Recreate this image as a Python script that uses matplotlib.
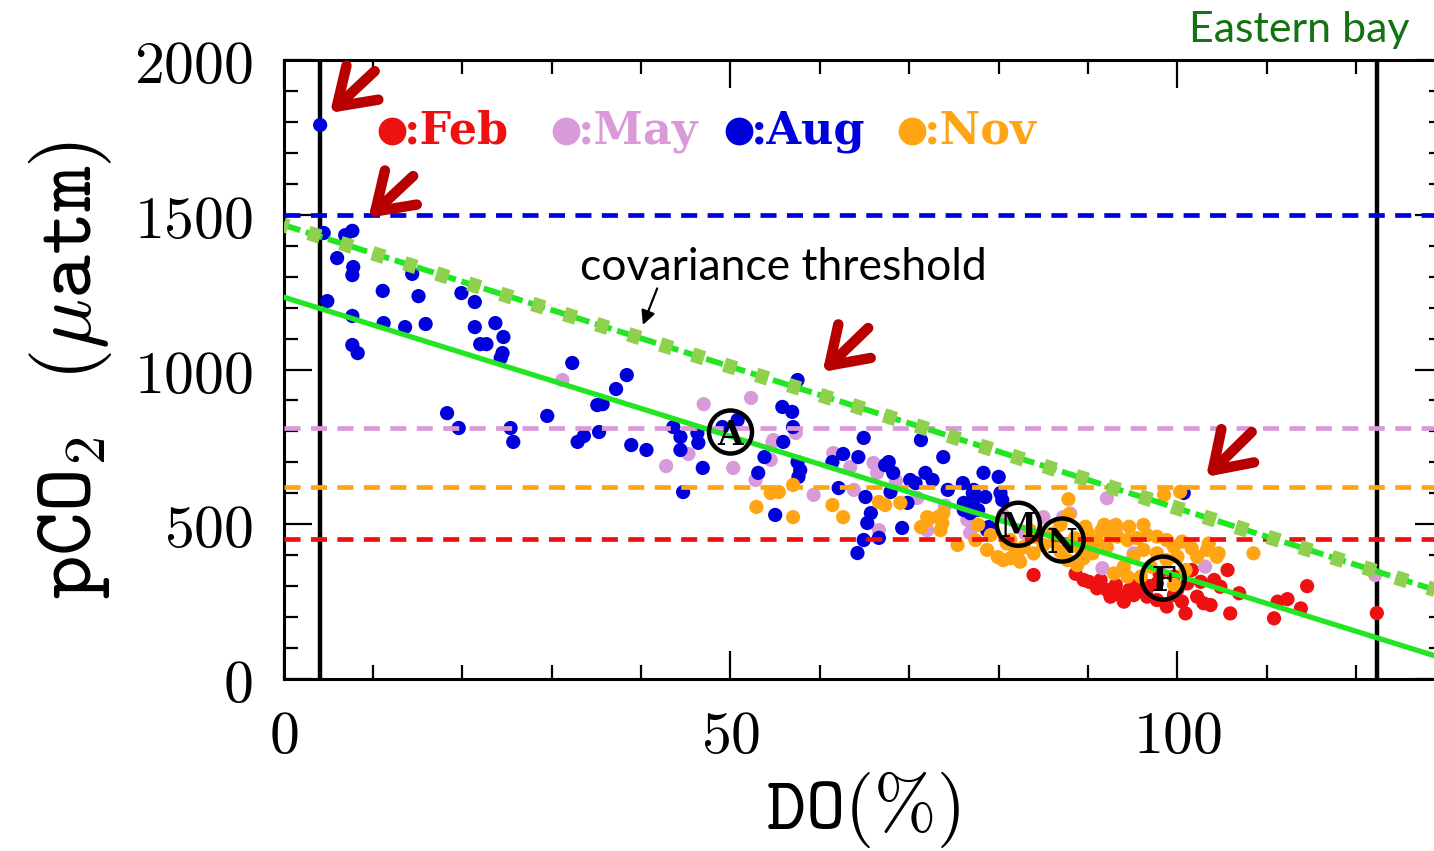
import matplotlib
matplotlib.use("Agg")
import matplotlib.pyplot as plt
from matplotlib.ticker import MultipleLocator, FuncFormatter

plt.rcParams['font.family'] = ['DejaVu Serif', 'DejaVu Sans']
plt.rcParams['mathtext.fontset'] = 'cm'

# ---------------- data ----------------
months = ['Feb', 'May', 'Aug', 'Nov']
month_colors = ['#ee1111', '#d99ad9', '#0000dd', '#ffa514']

feb_do = [90.1, 91.4, 91.0, 92.1, 93.1, 92.5, 93.6, 94.6, 95.1, 95.9, 96.6, 97.7, 98.8,
          97.7, 99.6, 100.5, 101.1, 101.6, 102.6, 102.2, 102.9, 103.7, 104.1, 104.8,
          105.6, 105.9, 106.9, 83.9, 111.2, 112.3, 110.8, 113.8, 114.5, 100.9, 89.5,
          95.5, 98.0, 100.0, 99.6, 122.3, 94.0, 96.8, 88.6]
feb_pco2 = [314, 320, 293, 288, 304, 266, 271, 288, 271, 293, 266, 255, 234,
            309, 271, 250, 309, 352, 314, 266, 245, 239, 320, 298,
            352, 212, 277, 336, 250, 258, 196, 228, 300, 212, 320,
            320, 340, 290, 331, 213, 250, 300, 340]

may_do = [31.2, 47.0, 52.3, 42.8, 45.3, 50.3, 54.7, 54.5, 52.8, 61.5, 63.4, 66.0, 66.4,
          59.3, 63.8, 70.9, 66.6, 72.0, 76.5, 76.8, 85.0, 88.0, 92.1, 93.1, 90.1, 95.1,
          91.6, 103.1, 89.0, 122.1, 54.8, 57.3, 87.2, 68.5, 74.0, 80.5, 83.0]
may_pco2 = [966, 888, 908, 688, 727, 682, 766, 708, 643, 730, 685, 698, 666,
            595, 611, 585, 481, 481, 514, 472, 523, 535, 584, 487, 417, 406,
            358, 363, 384, 336, 772, 795, 523, 640, 560, 530, 470]

aug_do = [4.1, 4.5, 6.9, 7.7, 6.0, 7.8, 7.7, 14.4, 11.1, 15.1, 19.9, 21.4, 4.9, 7.7,
          11.2, 13.6, 15.9, 21.4, 23.7, 24.6, 22.0, 22.7, 24.5, 24.3, 7.7, 8.3, 18.3,
          19.6, 25.4, 25.7, 29.5, 32.3, 38.4, 37.2, 35.1, 35.7, 33.6, 32.9, 35.3, 38.9,
          40.6, 43.6, 44.4, 44.4, 46.3, 46.4, 46.9, 44.7, 50.8, 49.1, 55.8, 56.9, 57.0,
          55.9, 53.8, 53.1, 55.0, 57.5, 57.5, 57.8, 57.6, 64.9, 62.6, 64.3, 61.4, 62.1,
          65.1, 65.7, 65.3, 64.9, 64.2, 69.2, 67.7, 67.3, 68.2, 70.1, 71.3, 73.8, 71.8,
          72.6, 74.3, 76.0, 77.2, 78.3, 80.0, 80.4, 76.1, 77.2, 76.8, 78.9, 80.2, 70.7,
          77.1, 78.5, 76.1, 77.7, 67.9, 69.8, 66.6, 78.7, 100.7]
aug_pco2 = [1790, 1441, 1434, 1448, 1360, 1331, 1305, 1309, 1254, 1237, 1247, 1218, 1221, 1173,
            1150, 1137, 1147, 1137, 1150, 1105, 1082, 1082, 1053, 1037, 1079, 1053, 859,
            811, 811, 766, 850, 1021, 982, 937, 885, 888, 785, 766, 798, 756,
            740, 814, 782, 740, 795, 763, 682, 604, 837, 814, 879, 863, 814,
            766, 717, 666, 530, 966, 701, 675, 653, 779, 727, 717, 701, 617,
            588, 536, 504, 449, 407, 488, 701, 691, 666, 643, 772, 717, 666,
            643, 611, 633, 611, 666, 653, 578, 569, 578, 536, 491, 601, 633,
            601, 588, 546, 546, 604, 569, 456, 481, 601]

nov_do = [80.9, 81.9, 81.3, 82.4, 83.9, 85.0, 86.2, 86.9, 87.7, 88.8, 89.5, 90.5, 91.0,
          92.1, 93.3, 94.4, 95.5, 96.6, 97.7, 98.8, 99.6, 100.5, 97.7, 96.2, 95.1, 94.0,
          92.9, 95.9, 94.4, 97.0, 98.8, 100.0, 101.6, 102.2, 103.3, 104.4, 103.5, 104.6,
          108.5, 99.6, 100.9, 87.8, 98.5, 100.3, 96.2, 91.8, 94.6, 93.1, 87.8, 86.9, 89.7,
          78.7, 79.9, 80.5, 82.1, 82.8, 77.4, 79.1, 81.3, 61.4, 62.6, 66.6, 67.3, 69.0,
          71.3, 72.0, 73.2, 73.8, 72.1, 73.7, 73.5, 77.7, 75.4, 52.9, 54.5, 55.4, 57.0,
          57.0, 84.0, 88.5, 90.0, 91.5, 89.0, 86.0, 83.5, 92.5, 90.0, 88.0]
nov_pco2 = [438, 417, 390, 379, 406, 433, 444, 411, 384, 368, 390, 406, 444,
            427, 460, 449, 455, 465, 460, 449, 427, 444, 406, 417, 395, 363,
            341, 331, 331, 363, 384, 395, 422, 395, 417, 395, 438, 406,
            406, 304, 352, 581, 595, 605, 498, 498, 492, 498, 530, 498, 492,
            417, 394, 384, 394, 426, 449, 465, 449, 562, 523, 572, 562, 569,
            491, 523, 523, 536, 514, 504, 481, 498, 433, 556, 601, 604, 627,
            523, 460, 455, 470, 480, 425, 470, 480, 470, 440, 430]

month_do = [feb_do, may_do, aug_do, nov_do]
month_pco2 = [feb_pco2, may_pco2, aug_pco2, nov_pco2]

# monthly reference (dashed) levels
month_levels = [452, 811, 1500, 620]

# centroid labels
centroid_labels = ['F', 'M', 'A', 'N']
centroid_do = [98.4, 82.2, 50.0, 87.1]
centroid_pco2 = [326, 500, 798, 449]

# regression line and covariance threshold
reg_do = [0, 130]
reg_pco2 = [1234, 64]
thr_do = [0, 130]
thr_pco2 = [1467, 277]

# vertical limits
vline_do = [4.1, 122.3]

# red highlight arrows (tip, tail)
arrow_tip_do = [5.2, 9.5, 60.3, 103.2]
arrow_tip_pco2 = [1829, 1490, 992, 653]
arrow_tail_do = [10.2, 14.5, 65.4, 108.3]
arrow_tail_pco2 = [1964, 1625, 1134, 798]

x_ticks = [0, 50, 100]
y_ticks = [0, 500, 1000, 1500, 2000]

# ---------------- figure ----------------
W, H = 1434, 851
fig = plt.figure(figsize=(W / 100, H / 100), dpi=100)
x0, x1, y0, y1 = 283.5, 1443, 679, 60
ax = fig.add_axes([x0 / W, 1 - y0 / H, (x1 - x0) / W, (y0 - y1) / H])
ax.set_xlim(0, 129.7)
ax.set_ylim(0, 2000)

# scatter points
for do, pc, col in zip(month_do, month_pco2, month_colors):
    ax.scatter(do, pc, s=105, color=col, edgecolors='none', zorder=3)

# vertical lines
for v in vline_do:
    ax.axvline(v, color='black', lw=3.2, zorder=2)

# dashed monthly levels
for lvl, col in zip(month_levels, month_colors):
    ax.axhline(lvl, color=col, lw=3.4, linestyle=(0, (3.4, 2.2)), zorder=4)

# regression
ax.plot(reg_do, reg_pco2, color='#22e622', lw=3.8, zorder=5)

# covariance threshold
ax.plot(thr_do, thr_pco2, color='#22e622', lw=4.2, linestyle=(0, (3.0, 1.0)), zorder=5)
ax.plot(thr_do, thr_pco2, color='#8fd14f', lw=10.5, linestyle=(0.5, (0.85, 1.45)),
        solid_capstyle='butt', dash_capstyle='butt', zorder=6)

# centroids
ax.scatter(centroid_do, centroid_pco2, s=31 ** 2, facecolors='none', edgecolors='black',
           linewidths=3.2, zorder=7)
for lab, dx, py in zip(centroid_labels, centroid_do, centroid_pco2):
    ax.text(dx, py, lab, ha='center', va='center_baseline', fontsize=24, fontweight='bold',
            family='DejaVu Serif', color='black', zorder=8)

# legend-like labels
leg_x_dot = [0.0936, 0.2436, 0.3929, 0.5421]
for xd, m, col in zip(leg_x_dot, months, month_colors):
    ax.plot([xd], [0.885], 'o', ms=20, color=col, mec='none', transform=ax.transAxes,
            clip_on=False, zorder=8)
    ax.text(xd + 0.0105, 0.885, ':' + m, transform=ax.transAxes, ha='left', va='center',
            fontsize=32, fontweight='bold', family='DejaVu Serif', color=col, zorder=8)

# red arrows
for tx, ty, sx, sy in zip(arrow_tip_do, arrow_tip_pco2, arrow_tail_do, arrow_tail_pco2):
    ax.annotate('', xy=(tx, ty), xytext=(sx, sy),
                arrowprops=dict(arrowstyle='->,head_length=0.9,head_width=0.6',
                                color='#b80000', lw=7.5, mutation_scale=28,
                                shrinkA=0, shrinkB=0, capstyle='round'),
                zorder=9, annotation_clip=False)

# covariance threshold label + arrow
ax.text(33.2, 1330, 'covariance threshold', family='Lato', fontsize=32, color='black',
        ha='left', va='center', zorder=9)
ax.annotate('', xy=(40.2, 1144), xytext=(41.8, 1262),
            arrowprops=dict(arrowstyle='-|>,head_length=0.6,head_width=0.3',
                            color='black', lw=1.6, mutation_scale=14, shrinkA=0, shrinkB=0),
            zorder=9)

fig.text(0.983, 0.965, 'Eastern bay', family='Lato', fontsize=31, color='#137313',
         ha='right', va='center')

# axes styling
tt_fmt = FuncFormatter(lambda v, p: r'$\mathtt{%d}$' % v)
ax.set_xticks(x_ticks)
ax.set_yticks(y_ticks)
ax.xaxis.set_major_formatter(tt_fmt)
ax.yaxis.set_major_formatter(tt_fmt)
ax.xaxis.set_minor_locator(MultipleLocator(10))
ax.yaxis.set_minor_locator(MultipleLocator(100))
ax.tick_params(which='both', direction='in', top=True, right=True, width=1.6, color='black')
ax.tick_params(which='major', length=20)
ax.tick_params(which='minor', length=10)
ax.tick_params(axis='y', which='major', pad=22, labelsize=43)
ax.tick_params(axis='x', which='major', pad=20, labelsize=43)
for sp in ax.spines.values():
    sp.set_linewidth(2.2)

ax.set_xlabel(r'$\mathtt{DO(\%)}$', fontsize=54, labelpad=3)
ax.set_ylabel(r'$\mathtt{pCO_2\ \ (}\mu\mathtt{atm)}$', fontsize=60, labelpad=14)

fig.savefig('out.png', dpi=100)
